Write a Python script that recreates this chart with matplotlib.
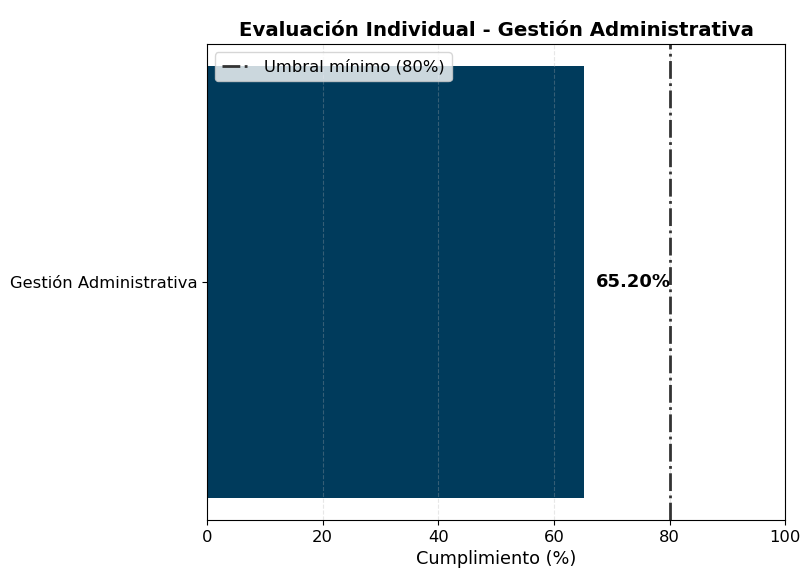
import matplotlib.pyplot as plt
import numpy as np

categorias = ['Gestión Administrativa']
cumplimiento = [65.20]
umbral = 80
xticks = [0, 20, 40, 60, 80, 100]

fig, ax = plt.subplots(figsize=(8.02, 5.74), dpi=100)
fig.subplots_adjust(left=0.258, right=0.979, top=0.923, bottom=0.094)

bars = ax.barh(categorias, cumplimiento, color='#003B5C')
ax.axvline(umbral, color='#333333', linestyle='-.', linewidth=2,
           label='Umbral mínimo (80%)')

for b, v in zip(bars, cumplimiento):
    ax.text(v + 2, b.get_y() + b.get_height() / 2, f'{v:.2f}%',
            va='center', ha='left', fontsize=13, fontweight='bold')

ax.set_xlim(0, 100)
ax.set_xticks(xticks)
ax.tick_params(labelsize=11.8)
ax.grid(axis='x', linestyle='--', alpha=0.3)
ax.set_xlabel('Cumplimiento (%)', fontsize=12.8)
ax.set_title('Evaluación Individual - Gestión Administrativa',
             fontsize=14.2, fontweight='bold')
ax.legend(loc='upper left', fontsize=11.8, handlelength=1.8)

fig.savefig('out.png', dpi=100)
